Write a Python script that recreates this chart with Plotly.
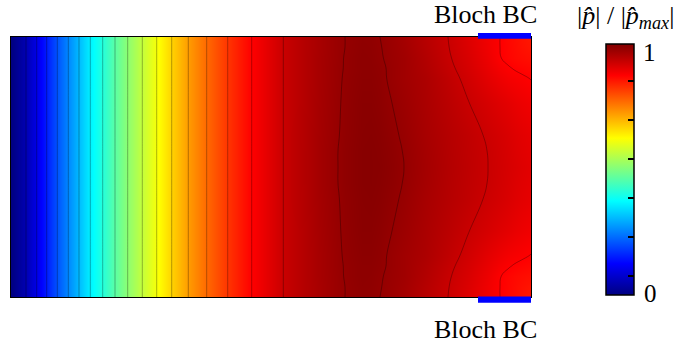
import plotly.graph_objects as go

# ---- data ----
# field |p|/|p_max| on a grid; x in [0,2], y in [0,1]
# left part: value is the same for every row (vertical contour lines)
x_left = [0.0, 0.0577, 0.0988, 0.1373, 0.1781, 0.2204, 0.2615, 0.3050, 0.3527,
          0.4000, 0.4488, 0.5050, 0.5604, 0.6181, 0.6819, 0.7527, 0.8335, 0.9258, 1.0473]
v_left = [0.00, 0.05, 0.10, 0.15, 0.20, 0.25, 0.30, 0.35, 0.40,
          0.45, 0.50, 0.55, 0.60, 0.65, 0.70, 0.75, 0.80, 0.85, 0.90]

# right part: value depends on the row
x_right = [1.1115, 1.1885, 1.2577, 1.2846, 1.3500, 1.3846, 1.4192, 1.4654, 1.5115,
           1.5923, 1.6808, 1.7577, 1.8346, 1.8808, 1.9115, 1.9385, 1.9654, 2.0]
# rows from the top edge down to the centre line (field symmetric about the centre)
y_half = [1.0, 0.9615, 0.919, 0.881, 0.842, 0.746, 0.623, 0.5615, 0.5]
v_right_rows = [
    [0.917, 0.933, 0.946, 0.950, 0.955, 0.954, 0.950, 0.943, 0.935, 0.918, 0.900, 0.881, 0.862, 0.850, 0.843, 0.838, 0.832, 0.826],
    [0.917, 0.933, 0.946, 0.950, 0.956, 0.955, 0.951, 0.944, 0.937, 0.920, 0.901, 0.883, 0.863, 0.850, 0.844, 0.839, 0.834, 0.829],
    [0.917, 0.934, 0.946, 0.951, 0.957, 0.956, 0.952, 0.945, 0.939, 0.923, 0.903, 0.886, 0.866, 0.851, 0.845, 0.841, 0.838, 0.835],
    [0.917, 0.934, 0.947, 0.951, 0.957, 0.957, 0.954, 0.946, 0.939, 0.925, 0.906, 0.889, 0.870, 0.858, 0.852, 0.848, 0.845, 0.842],
    [0.917, 0.934, 0.947, 0.952, 0.958, 0.958, 0.955, 0.946, 0.939, 0.928, 0.910, 0.893, 0.875, 0.865, 0.859, 0.856, 0.853, 0.849],
    [0.917, 0.935, 0.948, 0.953, 0.960, 0.960, 0.957, 0.950, 0.943, 0.930, 0.915, 0.901, 0.888, 0.880, 0.875, 0.870, 0.866, 0.862],
    [0.918, 0.936, 0.949, 0.954, 0.961, 0.962, 0.960, 0.954, 0.947, 0.933, 0.920, 0.909, 0.897, 0.890, 0.885, 0.880, 0.876, 0.872],
    [0.918, 0.937, 0.950, 0.955, 0.962, 0.963, 0.961, 0.956, 0.949, 0.935, 0.921, 0.910, 0.8995, 0.892, 0.887, 0.882, 0.878, 0.874],
    [0.918, 0.937, 0.950, 0.955, 0.962, 0.963, 0.962, 0.957, 0.950, 0.936, 0.922, 0.911, 0.900, 0.893, 0.888, 0.884, 0.880, 0.876],
]
# colour bar: tick marks as fractions of the bar length, end labels
cbar_tick_frac = [0.076, 0.231, 0.386, 0.542, 0.697, 0.852]
cbar_end_labels = ["0", "1"]
color_max = 0.97
bc_label = "Bloch BC"
cbar_title = "|<i>p\u0302</i>| / |<i>p\u0302</i><sub><i>max</i></sub>|"

# ---- assemble the grid (mirror the half rows about the centre line) ----
x_all = x_left + x_right
rows_top = [v_left + r for r in v_right_rows]           # top edge -> centre
rows_bottom = rows_top[:-1][::-1]                       # centre-1 -> ... wait mirrored below
y_bottom = [round(1.0 - y, 4) for y in y_half[:-1]]     # bottom edge -> just below centre
# ascending y: bottom edge ... centre ... top edge
y_all = y_bottom + y_half[::-1]
z = rows_top[:-1] + rows_top[::-1]

jet = [[0, 'rgb(0,0,128)'], [0.125, 'rgb(0,0,255)'], [0.375, 'rgb(0,255,255)'],
       [0.625, 'rgb(255,255,0)'], [0.875, 'rgb(255,0,0)'], [1, 'rgb(128,0,0)']]

L, T, PW, PH = 11, 37, 520, 260
CB_TOP, CB_BOT = 44, 295

def px2paper_x(px):
    return (px - L) / PW

def px2paper_y(py):
    return (T + PH - py) / PH

fig = go.Figure()
fig.add_trace(go.Heatmap(
    x=x_all, y=y_all, z=z, zmin=0, zmax=color_max, zsmooth='best', colorscale=jet,
    hoverinfo='skip',
    colorbar=dict(
        thickness=28, thicknessmode='pixels', len=CB_BOT - CB_TOP, lenmode='pixels',
        x=px2paper_x(606), xanchor='left', y=px2paper_y((CB_TOP + CB_BOT) / 2), yanchor='middle',
        xpad=0, ypad=0, outlinecolor='black', outlinewidth=1.5,
        tickmode='array', tickvals=[f * color_max for f in cbar_tick_frac], ticks='inside', ticklen=6,
        tickwidth=1.5, tickcolor='black', showticklabels=False,
    ),
))
fig.add_trace(go.Contour(
    x=x_all, y=y_all, z=z, showscale=False, hoverinfo='skip',
    contours=dict(coloring='none', start=0.05, end=0.95, size=0.05),
    line=dict(color='rgba(0,0,0,0.3)', width=1, smoothing=1.3),
))

shapes = []
# Bloch BC boundary bars
shapes.append(dict(type='rect', xref='paper', yref='paper', x0=px2paper_x(478), x1=px2paper_x(531),
                   y0=px2paper_y(38.7), y1=px2paper_y(33), fillcolor='#0000ff', line=dict(width=0), layer='above'))
shapes.append(dict(type='rect', xref='paper', yref='paper', x0=px2paper_x(478), x1=px2paper_x(531),
                   y0=px2paper_y(302.7), y1=px2paper_y(296.5), fillcolor='#0000ff', line=dict(width=0), layer='above'))
# left-side ticks of colour bar
for f in cbar_tick_frac:
    py = CB_BOT - f * (CB_BOT - CB_TOP)
    shapes.append(dict(type='line', xref='paper', yref='paper', x0=px2paper_x(606), x1=px2paper_x(612),
                       y0=px2paper_y(py), y1=px2paper_y(py), line=dict(color='black', width=1.5)))

serif = "Liberation Serif"
annotations = [
    dict(text=bc_label, x=px2paper_x(485), y=px2paper_y(14.5), xref='paper', yref='paper',
         showarrow=False, xanchor='center', yanchor='middle', font=dict(family=serif, size=26, color='black')),
    dict(text=bc_label, x=px2paper_x(485), y=px2paper_y(329), xref='paper', yref='paper',
         showarrow=False, xanchor='center', yanchor='middle', font=dict(family=serif, size=26, color='black')),
    dict(text=cbar_title, x=px2paper_x(625), y=px2paper_y(17),
         xref='paper', yref='paper', showarrow=False, xanchor='center', yanchor='middle',
         font=dict(family=serif, size=26, color='black')),
    dict(text=cbar_end_labels[1], x=px2paper_x(649), y=px2paper_y(52), xref='paper', yref='paper', showarrow=False,
         xanchor='center', yanchor='middle', font=dict(family=serif, size=25, color='black')),
    dict(text=cbar_end_labels[0], x=px2paper_x(650), y=px2paper_y(293.5), xref='paper', yref='paper', showarrow=False,
         xanchor='center', yanchor='middle', font=dict(family=serif, size=25, color='black')),
]

fig.update_layout(
    width=681, height=347, margin=dict(l=L, r=681 - L - PW, t=T, b=347 - T - PH),
    paper_bgcolor='white', plot_bgcolor='white', showlegend=False,
    shapes=shapes, annotations=annotations,
    xaxis=dict(range=[0, 2], showgrid=False, zeroline=False, showticklabels=False, ticks='',
               showline=True, mirror=True, linecolor='black', linewidth=1),
    yaxis=dict(range=[0, 1], showgrid=False, zeroline=False, showticklabels=False, ticks='',
               showline=True, mirror=True, linecolor='black', linewidth=1),
)
fig.write_html("out.html")
